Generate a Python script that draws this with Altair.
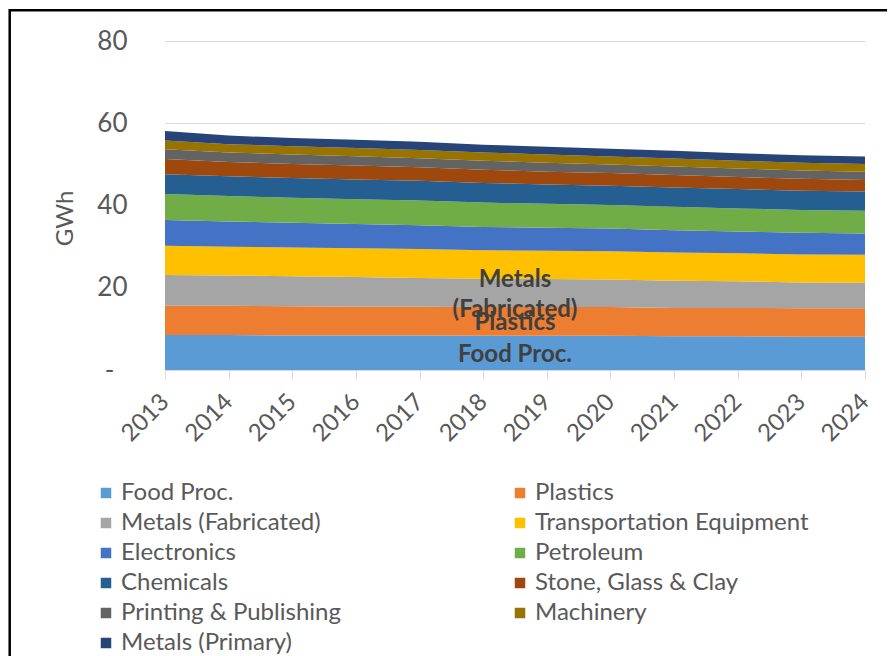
import altair as alt
import pandas as pd

years = list(range(2013, 2025))
sectors = [
    "Food Proc.", "Plastics", "Metals (Fabricated)", "Transportation Equipment",
    "Electronics", "Petroleum", "Chemicals", "Stone, Glass & Clay",
    "Printing & Publishing", "Machinery", "Metals (Primary)",
]
colors = [
    "#5B9BD5", "#ED7D31", "#A5A5A5", "#FFC000", "#4472C4", "#70AD47",
    "#255E91", "#9E480E", "#636363", "#997300", "#264478",
]

food = [8.5, 8.5, 8.4, 8.4, 8.4, 8.3, 8.3, 8.3, 8.2, 8.2, 8.1, 8.1]
plastics = [7.1, 7.1, 7.1, 7.0, 7.0, 7.0, 7.0, 7.0, 6.9, 6.9, 6.9, 6.9]
metals_fab = [7.5, 7.4, 7.3, 7.2, 7.0, 6.9, 6.8, 6.7, 6.6, 6.5, 6.3, 6.2]
transport = [7.1, 7.0, 7.0, 7.0, 7.0, 6.9, 6.9, 6.9, 6.9, 6.8, 6.8, 6.8]
electronics = [6.3, 6.1, 6.0, 5.9, 5.8, 5.7, 5.6, 5.5, 5.4, 5.3, 5.3, 5.2]
petroleum = [6.3, 6.2, 6.1, 6.0, 6.0, 5.9, 5.8, 5.7, 5.7, 5.6, 5.5, 5.5]
chemicals = [4.8, 4.8, 4.8, 4.8, 4.8, 4.8, 4.7, 4.7, 4.7, 4.7, 4.7, 4.7]
stone = [3.7, 3.5, 3.4, 3.4, 3.3, 3.2, 3.1, 3.1, 3.0, 2.9, 2.9, 2.8]
printing = [2.4, 2.3, 2.3, 2.3, 2.2, 2.2, 2.2, 2.1, 2.1, 2.1, 2.0, 2.0]
machinery = [2.1, 2.0, 2.0, 2.0, 2.0, 2.0, 2.0, 1.9, 1.9, 1.9, 1.9, 1.9]
metals_prim = [2.3, 2.1, 2.0, 2.0, 2.0, 1.9, 1.9, 1.9, 1.9, 1.8, 1.8, 1.8]

series_values = [food, plastics, metals_fab, transport, electronics, petroleum,
                 chemicals, stone, printing, machinery, metals_prim]

# legend reads row by row in two columns; Vega fills columns first
legend_order = [sectors[i] for i in (0, 2, 4, 6, 8, 10, 1, 3, 5, 7, 9)]
legend_colors = [colors[sectors.index(s)] for s in legend_order]

labelled = ["Food Proc.", "Plastics", "Metals\n(Fabricated)"]

rows = []
for i, (name, vals) in enumerate(zip(sectors, series_values)):
    for yr, v in zip(years, vals):
        rows.append({"year": yr, "sector": name, "gwh": v, "idx": i})
df = pd.DataFrame(rows)

# data labels at the middle of the first three bands (between 2018 and 2019)
lab_rows = []
base = 0.0
for k, txt in enumerate(labelled):
    v = (series_values[k][5] + series_values[k][6]) / 2
    lab_rows.append({"year": 2018.5, "y": base + v / 2, "text": txt,
                     "multi": "\n" in txt})
    base += v
lab_df = pd.DataFrame(lab_rows)

FONT = "Lato"
GREY = "#595959"

x_enc = alt.X(
    "year:Q",
    scale=alt.Scale(domain=[2013, 2024], nice=False, zero=False),
    axis=alt.Axis(
        values=years, format="d", title=None, labelAngle=-45,
        labelAlign="right", labelBaseline="middle", labelPadding=19,
        labelFont=FONT, labelFontSize=24, labelColor=GREY,
        grid=False, domainColor="#D9D9D9", tickColor="#D9D9D9", tickSize=9,
        labelFlush=False, labelOverlap=False,
    ),
)

areas = alt.Chart(df).mark_area(interpolate="linear").encode(
    x=x_enc,
    y=alt.Y(
        "gwh:Q", stack="zero",
        scale=alt.Scale(domain=[0, 80], nice=False),
        axis=alt.Axis(
            values=[0, 20, 40, 60, 80], title="GWh",
            labelExpr="datum.value == 0 ? '-' : datum.label",
            labelFont=FONT, labelFontSize=26, labelColor=GREY,
            labelPadding={"expr": "datum.value == 0 ? 51 : 38"},
            ticks=False, domain=False, gridColor="#D9D9D9", gridWidth=1.2,
            titleFont=FONT, titleFontSize=24, titleColor=GREY,
            titleFontWeight="normal", titleX=-100, titleY=177,
            titleAngle=270, titleAlign="center", titleBaseline="middle",
        ),
    ),
    color=alt.Color(
        "sector:N", sort=legend_order,
        scale=alt.Scale(domain=legend_order, range=legend_colors),
        legend=alt.Legend(
            orient="none", legendX=-71, legendY=440, columns=2, title=None,
            symbolType="square", symbolSize=110, symbolStrokeWidth=0,
            labelFont=FONT, labelFontSize=24, labelColor=GREY, labelOffset=3,
            rowPadding=6, columnPadding=167, labelLimit=500,
        ),
    ),
    order=alt.Order("idx:Q", sort="ascending"),
)

single = alt.Chart(lab_df).transform_filter("!datum.multi").mark_text(
    font=FONT, fontSize=24, fontWeight="bold", color="#404040",
    align="center", baseline="middle", dy=2,
).encode(x=alt.X("year:Q"), y=alt.Y("y:Q"), text="text:N")

multi = alt.Chart(lab_df).transform_filter("datum.multi").mark_text(
    font=FONT, fontSize=24, fontWeight="bold", color="#404040",
    align="center", baseline="middle", lineBreak="\n", lineHeight=30, dy=-13,
).encode(x=alt.X("year:Q"), y=alt.Y("y:Q"), text="text:N")

frame = alt.Chart(pd.DataFrame({"f": [0]})).mark_rect(
    fillOpacity=0, stroke="black", strokeWidth=2.5,
).encode(
    x=alt.value(-155.3), x2=alt.value(900),
    y=alt.value(-30.7), y2=alt.value(900),
)

chart = alt.layer(areas, single, multi, frame).properties(
    width=700, height=329,
    autosize=alt.AutoSizeParams(type="none"),
    padding={"left": 157, "top": 33, "right": 22, "bottom": 286},
).configure_view(strokeWidth=0)

chart.save("out.html", embed_options={"renderer": "svg", "actions": False})
